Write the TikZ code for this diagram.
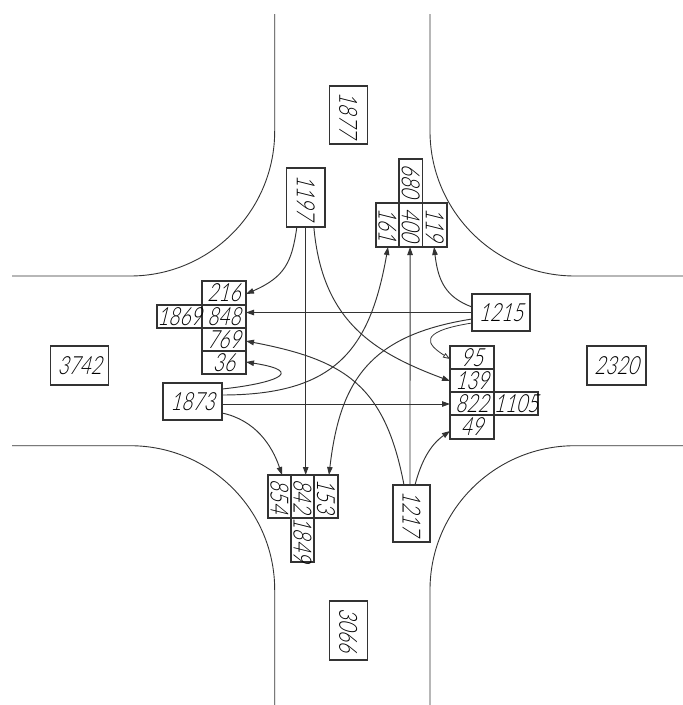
\documentclass[tikz,border=0pt]{standalone}
\usepackage{fontspec}
\usepackage{graphicx}
\usetikzlibrary{arrows.meta}
\newfontfamily\cadfont[FakeSlant=0.25,FakeStretch=0.76]{Lato Light}
\definecolor{ink}{gray}{0.2}
\tikzset{
  road/.style={draw=ink,line width=0.9pt},
  box/.style={draw=ink,line width=1.1pt,inner sep=0pt,outer sep=0pt,text=black,font=\cadfont\fontsize{25}{25}\selectfont},
  flow/.style={draw=ink,line width=0.95pt,-{Triangle[length=8pt,width=5.5pt]}},
  flowopen/.style={draw=ink,line width=0.8pt,-{Triangle[open,length=7pt,width=5pt]}}
}
\newcommand{\hbx}[6]{\pgfmathsetmacro{\cxx}{(#2+#4)/2}\pgfmathsetmacro{\cyy}{(#3+#5)/2}\pgfmathsetmacro{\ww}{#4-#2}\pgfmathsetmacro{\hh}{#5-#3}%
  \node[box,minimum width=\ww pt,minimum height=\hh pt] (#1) at (\cxx,\cyy) {#6};}
\newcommand{\vbx}[6]{\pgfmathsetmacro{\cxx}{(#2+#4)/2}\pgfmathsetmacro{\cyy}{(#3+#5)/2}\pgfmathsetmacro{\ww}{#4-#2}\pgfmathsetmacro{\hh}{#5-#3}%
  \node[box,minimum width=\ww pt,minimum height=\hh pt] (#1) at (\cxx,\cyy) {\rotatebox{-90}{#6}};}
\begin{document}
\begin{tikzpicture}[x=1pt,y=-1pt]
\useasboundingbox (0,0) rectangle (683,705);
% roads
\draw[road] (274.7,14) -- (274.7,131) .. controls (274.7,211) and (210,276) .. (130,276) -- (12,276);
\draw[road] (430,14) -- (430,131) .. controls (430,211) and (495,276) .. (575,276) -- (683,276);
\draw[road] (12,445.7) -- (130,445.7) .. controls (210,445.7) and (274.7,510) .. (274.7,590) -- (274.7,705);
\draw[road] (683,445.7) -- (575,445.7) .. controls (495,445.7) and (430,510) .. (430,590) -- (430,705);
% totals
\vbx{n1877}{329.3}{86}{367.3}{144}{1877}
\hbx{n3742}{50.7}{346}{108.7}{385}{3742}
\hbx{n2320}{587}{346}{646}{385}{2320}
\vbx{n3066}{329.3}{601}{367.3}{660}{3066}
% sources
\vbx{n1197}{286.7}{168}{325}{227}{1197}
\hbx{n1215}{472}{294}{530}{331}{1215}
\hbx{n1873}{163}{383}{222}{420}{1873}
\vbx{n1217}{393}{485}{430}{542}{1217}
% west group
\hbx{n216}{202}{281}{246}{305}{216}
\hbx{n848}{202}{305}{246}{328}{848}
\hbx{n769}{202}{328}{246}{351}{769}
\hbx{n36}{202}{351}{246}{374}{36}
\hbx{n1869}{157}{305}{202}{328}{1869}
% north group
\vbx{n680}{399}{159}{422.5}{203}{680}
\vbx{n161}{376}{203}{399}{247}{161}
\vbx{n400}{399}{203}{422.5}{247}{400}
\vbx{n119}{422.5}{203}{447}{247}{119}
% east group
\hbx{n95}{450}{346}{494}{369}{95}
\hbx{n139}{450}{369}{494}{392}{139}
\hbx{n822}{450}{392}{494}{415}{822}
\hbx{n49}{450}{415}{494}{439}{49}
\hbx{n1105}{494}{392}{538}{415}{1105}
% south group
\vbx{n854}{268}{475}{291}{518}{854}
\vbx{n842}{291}{475}{314}{518}{842}
\vbx{n153}{314}{475}{338}{518}{153}
\vbx{n1849}{291}{518}{314}{562}{1849}
% flows from 1197
\draw[flow] ([xshift=-9pt]n1197.south) .. controls (292,262) and (285,277) .. ([yshift=-1pt]n216.east);
\draw[flow] ([xshift=-0.15pt]n1197.south) -- ([xshift=3.2pt]n842.north);
\draw[flow] ([xshift=8pt]n1197.south) .. controls (322,320) and (372,352) .. ([yshift=-0.5pt]n139.west);
% flows from 1215
\draw[flow] (n1215.west) -- ([yshift=4pt]n848.east);
\draw[flow] ([yshift=5.5pt]n1215.west) .. controls (445,297) and (438,280) .. ([xshift=-0.7pt]n119.south);
\draw[flow] ([yshift=-6.5pt]n1215.west) .. controls (370,335) and (340,380) .. ([xshift=3pt]n153.north);
\draw[flowopen] ([yshift=-10.5pt]n1215.west) .. controls (415,332) and (428,345) .. ([yshift=-1.5pt]n95.west);
% flows from 1217
\draw[flow] ([xshift=-7.5pt]n1217.north) .. controls (385,385) and (345,360) .. ([yshift=-1.5pt]n769.east);
\draw[flow] ([xshift=-1.5pt]n1217.north) -- ([xshift=-0.7pt]n400.south);
\draw[flow] ([xshift=3.5pt]n1217.north) .. controls (421,462) and (430,445) .. ([yshift=-4pt]n49.west);
% flows from 1873
\draw[flow] ([yshift=12.5pt]n1873.east) .. controls (270,384) and (310,372) .. ([yshift=0.5pt]n36.east);
\draw[flow] ([yshift=6.5pt]n1873.east) .. controls (335,395) and (370,350) .. ([xshift=0.5pt]n161.south);
\draw[flow] ([yshift=-2.5pt]n1873.east) -- ([yshift=-0.5pt]n822.west);
\draw[flow] ([yshift=-11.5pt]n1873.east) .. controls (255,420) and (272,445) .. ([xshift=2.5pt]n854.north);
\end{tikzpicture}
\end{document}
